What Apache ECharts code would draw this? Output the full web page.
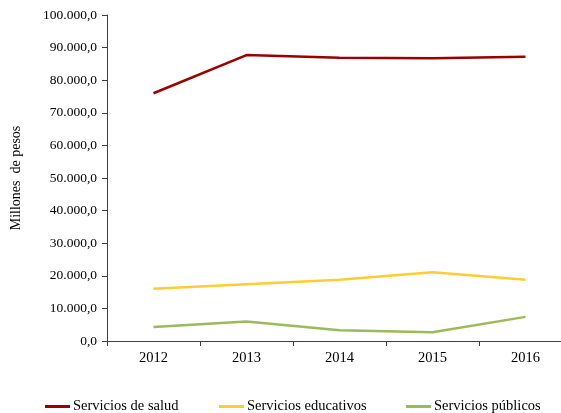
<!DOCTYPE html>
<html><head><meta charset="utf-8">
<script src="https://cdn.jsdelivr.net/npm/echarts@6/dist/echarts.min.js"></script>
<style>html,body{margin:0;padding:0;overflow:hidden;background:#fff;width:561px;height:413px}#c{width:580px;height:413px}</style>
</head><body><div id="c"></div>
<script>
const years = ['2012','2013','2014','2015','2016'];
const salud = [76000, 87700, 86900, 86700, 87200];
const educativos = [16000, 17400, 18800, 21100, 18800];
const publicos = [4300, 6000, 3300, 2700, 7400];
const seriesNames = ['Servicios de salud','Servicios educativos','Servicios públicos'];
const colors = ['#990000','#ffcc33','#9bbb59'];
const yTitle = 'Millones  de pesos';

const font = 'Liberation Serif';
function fmt(v){
  const s = Math.round(v).toString().replace(/\B(?=(\d{3})+(?!\d))/g,'.');
  return s + ',0';
}
const chart = echarts.init(document.getElementById('c'), null, {renderer:'canvas'});
const dataArr = [salud, educativos, publicos];
const legendLeft = [45, 219, 406];
chart.setOption({
  animation:false,
  textStyle:{fontFamily:font},
  grid:{left:107, right:8, top:15, bottom:72},
  legend: seriesNames.map((n,i)=>({
    data:[n], left:legendLeft[i], top:399, padding:0, icon:'rect', itemWidth:25, itemHeight:3, itemGap:0,
    textStyle:{fontFamily:font, fontSize:14.5, color:'#000', padding:[0,0,0,-2]}
  })),
  xAxis:{type:'category', data:years, boundaryGap:true,
    axisLine:{lineStyle:{color:'#404040', width:1}},
    axisTick:{show:true, length:5, lineStyle:{color:'#404040'}},
    axisLabel:{color:'#000', fontFamily:font, fontSize:14.5, margin:10}},
  yAxis:{type:'value', min:0, max:100000, interval:10000,
    name:yTitle, nameLocation:'middle', nameGap:84, nameRotate:90,
    nameTextStyle:{fontFamily:font, fontSize:14, color:'#000'},
    axisLine:{show:true, lineStyle:{color:'#404040', width:1}},
    axisTick:{show:true, length:5, lineStyle:{color:'#404040'}},
    splitLine:{show:false},
    axisLabel:{color:'#000', fontFamily:font, fontSize:13.5, margin:10, formatter:fmt}},
  series: seriesNames.map((n,i)=>({
    name:n, type:'line', data:dataArr[i], showSymbol:false, symbol:'none',
    lineStyle:{color:colors[i], width:2.5}, itemStyle:{color:colors[i]}
  }))
});
</script></body></html>
